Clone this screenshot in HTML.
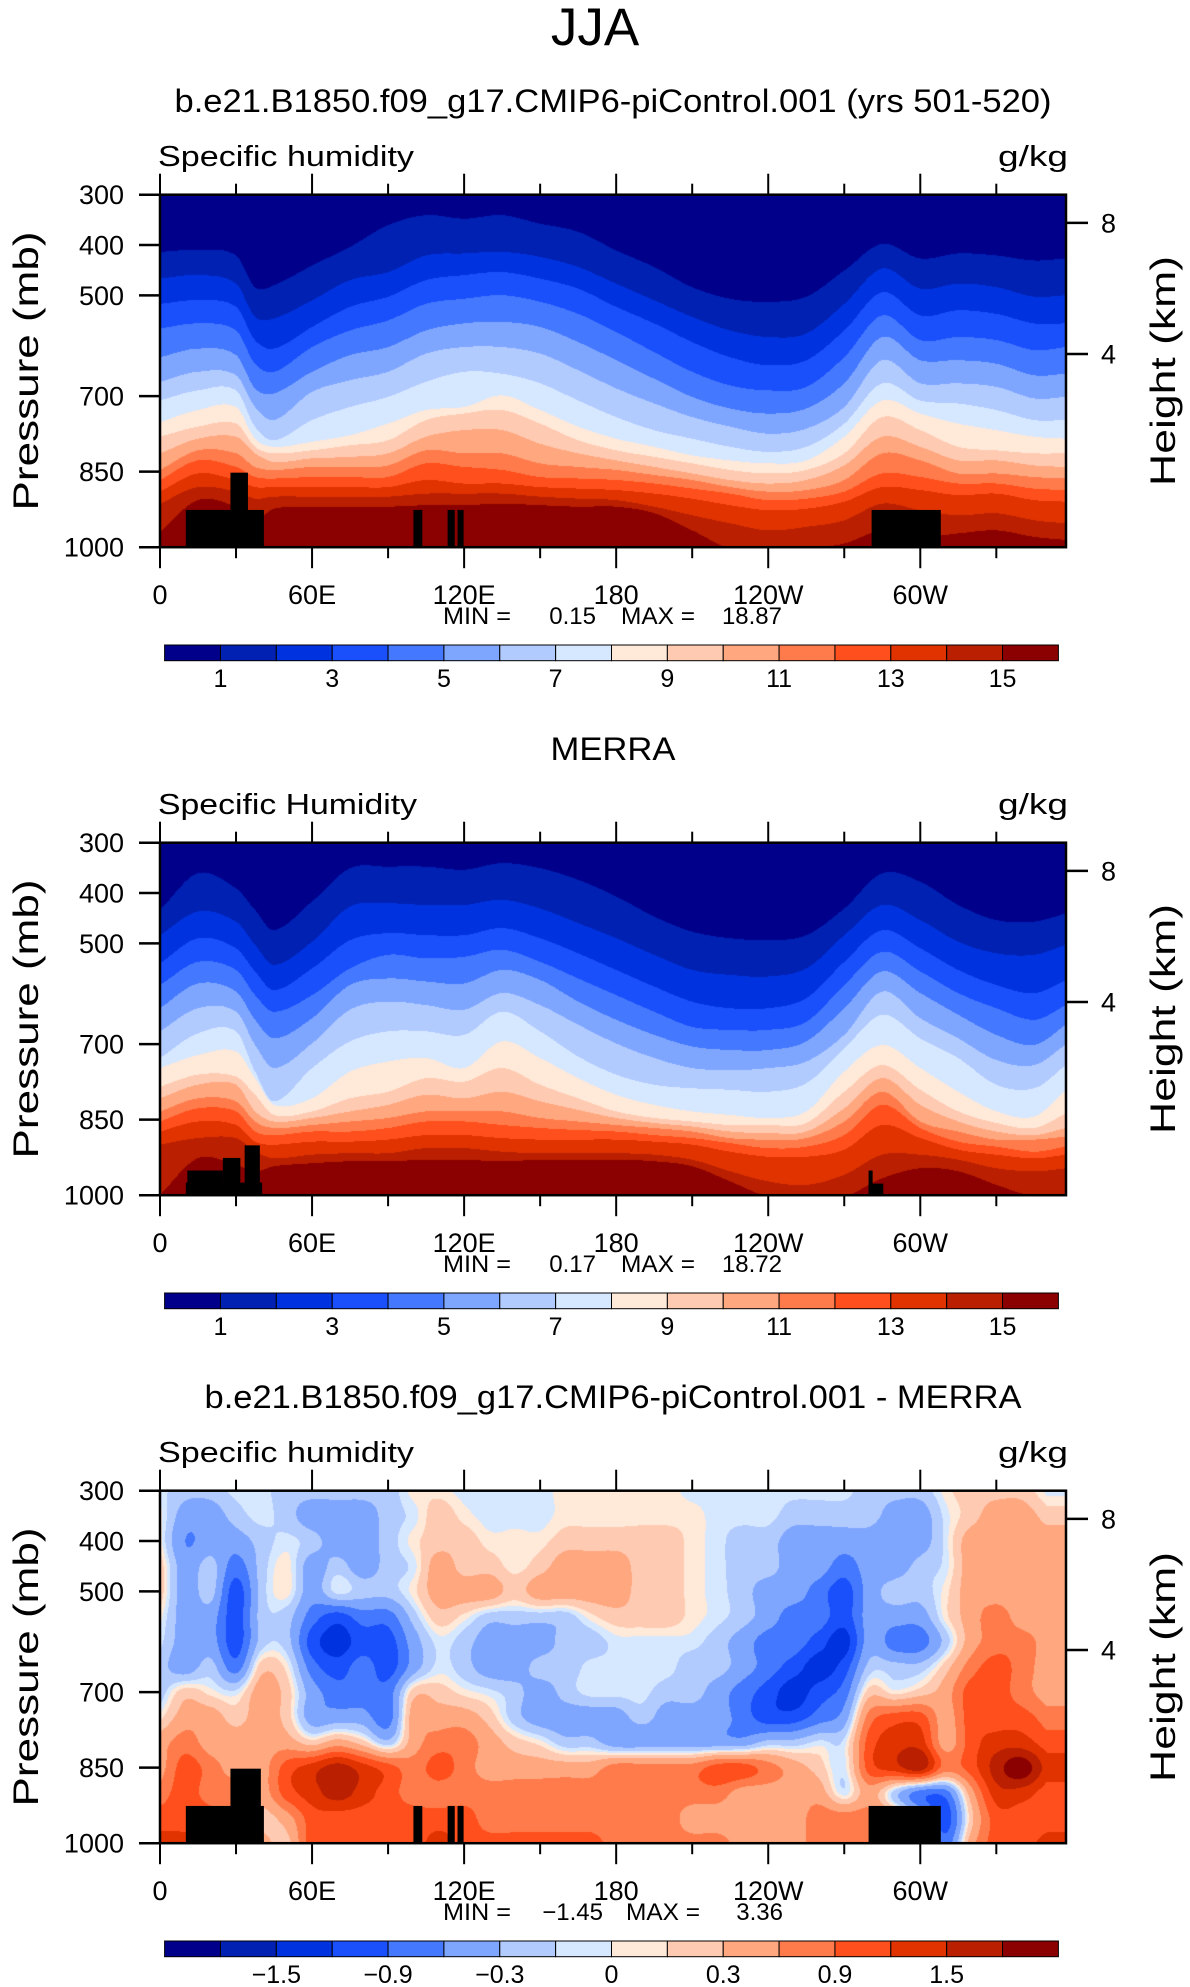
<!DOCTYPE html>
<html><head><meta charset="utf-8">
<style>
html,body{margin:0;padding:0;background:#fff;}
body{width:1190px;height:1987px;position:relative;overflow:hidden;font-family:"Liberation Sans",sans-serif;}
canvas{position:absolute;}
svg{position:absolute;left:0;top:0;}
</style></head>
<body>
<canvas id="cv0" width="906" height="353" style="left:160px;top:194.7px"></canvas>
<canvas id="cv1" width="906" height="353" style="left:160px;top:842.7px"></canvas>
<canvas id="cv2" width="906" height="353" style="left:160px;top:1490.7px"></canvas>
<svg id="chart" width="1190" height="1987">
<text x="595" y="45" text-anchor="middle" font-size="53" fill="#000" font-family="Liberation Sans, sans-serif">JJA</text>
</svg>
<script>
// ---------- data ----------
const lons=[0,15,30,37.5,45,60,75,90,105,120,135,150,165,180,195,210,225,240,255,270,285,300,315,330,345,357.5];
// model (CNTL): pressure (mb) where specific humidity reaches 1..15 g/kg
const cntl_q1=[413,409,420,483,479,440,403,360,340,347,340,357,373,410,443,483,506,512,502,450,397,426,416,420,430,426];
const cntl_q2=[466,459,476,542,545,509,469,453,420,416,413,423,443,476,509,542,569,582,575,516,446,486,476,483,502,499];
const cntl_q3=[516,509,522,588,605,562,522,502,469,459,453,466,486,522,555,592,622,638,628,569,493,539,529,536,555,555];
const cntl_q4=[565,555,569,635,651,602,569,549,516,506,499,512,536,572,612,651,678,688,681,622,539,588,582,588,608,602];
const cntl_q5=[622,605,618,684,694,651,618,602,569,555,552,562,592,628,665,701,724,734,724,674,582,628,628,635,658,655];
const cntl_q6=[671,651,658,721,747,691,668,651,615,602,602,615,648,684,714,741,760,774,764,721,628,674,674,681,704,701];
const cntl_q7=[708,688,688,760,787,747,721,701,671,651,655,674,708,741,767,784,800,810,800,754,674,708,714,727,747,747];
const cntl_q8=[751,727,721,784,800,790,777,754,727,721,698,727,760,784,800,817,827,833,827,780,708,734,754,767,780,784];
const cntl_q9=[780,760,754,800,813,807,797,787,747,734,727,754,787,807,820,833,846,853,846,813,741,767,800,807,813,813];
const cntl_q10=[813,784,780,813,830,823,820,813,780,767,767,794,813,827,840,853,866,873,866,837,780,800,827,827,837,840];
const cntl_q11=[846,807,813,840,846,840,840,837,807,813,813,833,840,846,856,866,880,889,886,866,813,827,853,853,860,863];
const cntl_q12=[866,827,840,860,863,860,860,860,833,840,846,860,863,866,873,883,893,906,903,889,853,860,873,873,883,886];
const cntl_q13=[889,853,866,880,880,880,880,880,866,873,873,880,883,886,893,903,916,926,923,909,880,886,896,893,906,909];
const cntl_q14=[913,880,889,903,899,899,899,899,893,893,893,899,903,906,919,936,952,966,959,946,913,926,936,932,946,952];
const cntl_q15=[969,906,919,946,923,919,919,919,916,916,913,916,919,919,932,966,1002,1002,1002,992,966,979,972,966,979,985];
// MERRA
const merra_q1=[433,360,390,433,473,416,350,347,347,353,340,350,373,406,446,476,489,493,483,430,360,377,423,453,456,440];
const merra_q2=[483,436,456,502,542,496,426,420,423,423,413,430,459,489,522,552,562,565,549,483,423,453,496,519,522,502];
const merra_q3=[539,489,509,555,592,549,493,479,483,483,469,489,519,552,585,615,628,628,608,536,473,509,552,582,598,572];
const merra_q4=[582,536,552,602,635,602,549,522,529,526,512,536,569,602,635,665,671,671,655,582,516,555,598,628,651,622];
const merra_q5=[628,579,595,651,688,648,582,569,575,579,552,572,615,651,681,704,711,711,694,628,555,598,641,681,701,661];
const merra_q6=[674,628,635,701,747,698,631,615,622,631,598,622,661,698,727,747,751,747,734,681,595,648,688,731,741,700];
const merra_q7=[727,678,674,754,813,747,694,674,674,681,635,674,724,760,780,787,790,794,777,708,641,688,727,780,787,741];
const merra_q8=[747,721,714,767,820,807,754,734,727,747,694,727,767,800,820,833,840,846,833,754,701,747,794,833,843,790];
const merra_q9=[784,760,764,800,840,833,807,794,767,774,747,780,807,833,846,853,860,860,856,794,741,790,833,856,866,837];
const merra_q10=[807,780,780,833,853,846,833,820,800,807,794,813,830,846,856,863,873,876,873,827,767,820,853,873,880,866];
const merra_q11=[833,807,813,853,866,860,853,846,833,833,833,846,853,860,866,873,886,889,886,853,794,853,873,889,889,883];
const merra_q12=[853,827,833,873,880,873,873,866,853,853,860,866,870,873,880,886,896,906,903,880,820,866,893,903,913,903];
const merra_q13=[873,853,860,893,899,893,893,889,880,880,886,889,889,889,893,899,913,923,923,909,860,886,909,919,926,919];
const merra_q14=[899,886,886,913,926,919,916,916,906,906,913,916,916,916,919,929,952,972,979,959,919,919,929,946,952,946];
const merra_q15=[999,926,939,952,942,936,932,932,929,929,932,929,929,929,932,942,972,1002,1002,1002,966,946,952,979,1002,1002];
// difference field (g/kg), lon 0..350 step 10, one array per pressure level
const diffLons=[0,10,20,30,40,50,60,70,80,90,100,110,120,130,140,150,160,170,180,190,200,210,220,230,240,250,260,270,280,290,300,310,320,330,340,350];
const diffPres=[300,350,400,450,500,550,600,650,700,750,800,850,900,950,1000];
const diff_p300=[-0.05,-0.2,-0.2,-0.05,-0.05,-0.2,-0.2,-0.2,-0.2,-0.2,0.05,0.05,-0.05,-0.05,-0.05,-0.05,0.05,0.05,0.05,0.05,0.05,-0.05,-0.05,-0.05,-0.05,-0.05,-0.05,-0.05,-0.2,-0.2,-0.2,0.05,0.2,0.2,0.2,-0.05];
const diff_p350=[0.05,-0.45,-0.45,-0.2,-0.05,-0.2,-0.45,-0.45,-0.45,-0.2,-0.05,0.2,0.05,-0.05,-0.05,-0.05,0.05,0.05,0.05,0.05,0.05,0.05,-0.05,-0.05,-0.05,-0.2,-0.2,-0.2,-0.2,-0.45,-0.45,-0.05,0.2,0.45,0.45,0.2];
const diff_p400=[0.05,-0.6,-0.45,-0.45,-0.2,-0.05,-0.2,-0.45,-0.45,-0.2,0.05,0.2,0.2,0.05,0.05,0.05,0.2,0.2,0.2,0.2,0.2,0.05,-0.05,-0.2,-0.2,-0.45,-0.45,-0.45,-0.45,-0.6,-0.45,-0.05,0.45,0.45,0.45,0.45];
const diff_p450=[0.2,-0.45,-0.2,-0.75,-0.2,0.05,-0.45,-0.2,-0.45,-0.2,-0.05,0.45,0.2,0.2,0.05,0.2,0.45,0.45,0.45,0.2,0.2,0.05,-0.05,-0.2,-0.2,-0.45,-0.45,-0.75,-0.45,-0.45,-0.2,-0.05,0.45,0.45,0.45,0.45];
const diff_p500=[0.2,-0.45,-0.2,-1.05,-0.2,0.05,-0.45,-0.05,-0.2,-0.2,0.05,0.45,0.45,0.45,0.2,0.45,0.45,0.45,0.45,0.2,0.2,0.05,-0.05,-0.2,-0.45,-0.45,-0.75,-1.05,-0.45,-0.2,-0.2,0.05,0.45,0.45,0.45,0.45];
const diff_p550=[0.05,-0.45,-0.45,-1.05,-0.2,-0.2,-0.75,-1.05,-0.75,-0.75,-0.2,0.2,0.05,-0.2,-0.2,-0.2,-0.2,0.05,0.2,0.2,0.2,0.05,-0.05,-0.2,-0.45,-0.75,-0.75,-1.05,-0.45,-0.45,-0.45,0.05,0.45,0.75,0.45,0.45];
const diff_p600=[-0.05,-0.45,-0.45,-1.05,-0.2,-0.2,-1.05,-1.35,-1.05,-1.05,-0.45,-0.05,-0.2,-0.45,-0.45,-0.45,-0.2,-0.2,-0.05,-0.05,-0.05,-0.05,-0.2,-0.45,-0.75,-0.75,-1.05,-1.35,-0.45,-0.75,-0.75,-0.2,0.45,0.75,0.75,0.45];
const diff_p650=[-0.2,-0.45,-0.2,-0.75,0.2,0.05,-0.75,-1.05,-0.75,-1.05,-0.45,-0.05,-0.2,-0.45,-0.45,-0.2,-0.2,-0.05,-0.05,-0.05,-0.05,-0.2,-0.2,-0.45,-0.75,-1.05,-1.35,-1.05,-0.2,-0.2,-0.2,0.2,0.75,1.05,0.75,0.45];
const diff_p700=[-0.2,0.2,0.05,-0.05,0.45,0.2,-0.45,-0.75,-0.75,-0.75,0.2,0.2,0.05,-0.05,-0.2,-0.45,-0.2,-0.05,-0.05,-0.05,-0.2,-0.2,-0.45,-0.75,-1.05,-1.35,-1.05,-0.75,0.2,0.05,0.2,0.45,1.05,1.05,0.75,0.45];
const diff_p750=[0.05,0.45,0.45,0.2,0.45,0.2,-0.45,-0.45,-0.45,-0.75,0.45,0.45,0.45,0.2,-0.2,-0.45,-0.45,-0.45,-0.45,-0.2,-0.45,-0.45,-0.45,-0.75,-1.05,-1.05,-0.75,-0.45,0.75,1.05,1.05,0.45,1.05,1.05,1.05,0.75];
const diff_p800=[0.45,0.75,0.45,0.45,0.45,0.45,0.2,0.45,0.2,-0.2,0.45,0.75,0.75,0.45,0.2,0.05,-0.2,-0.2,-0.45,-0.45,-0.45,-0.45,-0.45,-0.45,-0.2,-0.2,-0.05,-0.05,1.05,1.35,1.35,0.45,1.05,1.35,1.35,1.05];
const diff_p850=[0.45,1.05,0.75,0.45,0.45,1.05,1.35,1.65,1.35,1.05,0.75,1.05,0.75,0.45,0.45,0.45,0.45,0.45,0.75,0.75,0.75,0.75,1.05,1.05,0.75,0.45,0.2,-0.05,1.05,1.35,1.65,0.75,1.05,1.65,2.0,1.35];
const diff_p900=[0.75,1.05,0.75,0.75,0.45,1.05,1.35,1.65,1.35,1.05,0.75,0.75,0.75,0.75,0.75,0.75,0.75,0.75,0.75,0.75,0.75,0.75,0.75,0.45,0.45,0.45,0.45,-0.05,0.45,-0.2,-0.75,-0.75,0.45,1.35,1.35,1.05];
const diff_p950=[1.05,1.05,1.05,0.45,0.2,0.45,1.05,1.05,1.05,1.05,1.05,1.05,1.05,0.75,0.75,0.75,0.75,0.75,0.75,0.75,0.75,0.45,0.45,0.45,0.45,0.45,0.75,0.75,0.75,0.45,-0.2,-1.05,0.2,1.05,1.05,1.05];
const diff_p1000=[1.35,1.35,1.05,0.75,0.45,0.2,1.05,1.05,1.05,1.05,1.05,1.35,1.05,1.05,1.05,1.05,1.05,1.05,0.75,0.75,0.75,0.75,0.75,0.45,0.45,0.45,0.75,0.75,0.75,0.45,0.2,-0.75,0.45,1.05,1.05,1.35];
// topography masks: [lonStart, lonEnd, surface pressure]
const topoCntl=[[10.2,41,926],[27.8,34.7,852],[100,103.5,926],[113.5,116.3,926],[117.4,119.8,926],[280.8,308.1,926]];
const topoMerra=[[10.2,40.3,975],[10.8,24.8,951],[24.8,31.7,926],[33.4,39.4,901],[279.6,281.2,951],[279.6,285.4,977]];
const topoDiff=[[10.2,41,926],[27.8,39.8,852],[100,103.5,926],[113.5,116.3,926],[117.4,119.8,926],[279.6,308.1,926]];
// axis ticks / labels
const pTicks=[300,400,500,700,850,1000];
const lonTickVals=[0,60,120,180,240,300];
const lonTickLabels=['0','60E','120E','180','120W','60W'];
const heightTicks=[4,8];
const qLevels=[1,2,3,4,5,6,7,8,9,10,11,12,13,14,15];
const qLabels=['1','','3','','5','','7','','9','','11','','13','','15'];
const diffLevels=[-1.8,-1.5,-1.2,-0.9,-0.6,-0.3,-0.1,0,0.1,0.3,0.6,0.9,1.2,1.5,1.8];
const diffLabels=['','\u22121.5','','\u22120.9','','\u22120.3','','0','','0.3','','0.9','','1.5',''];
const colors=['#00008b','#0021b2','#0032df','#1a4ffc','#4478fe','#7fa6ff','#b2cbff','#d6e8ff','#ffe9d9','#ffcab2','#ffa77f','#ff7b4b','#ff4f1d','#e03300','#b91f00','#8b0000'];
const statsCntl=['0.15','18.87'];
const statsMerra=['0.17','18.72'];
const statsDiff=['\u22121.45','3.36'];

// ---------- geometry ----------
const NS='http://www.w3.org/2000/svg';
const svg=document.getElementById('chart');
const PL=160,PW=906,PH=352.5,LONMAX=357.5;
const TOPS=[194.7,842.7,1490.7];
function xOf(lon){return PL+lon/LONMAX*PW;}
function yOf(p,top){return top+(p-300)/700*PH;}
function pOfH(hkm){return 1013.25*Math.pow(1-2.25577e-5*hkm*1000,5.25588);}
function mk(tag,attrs,parent){const e=document.createElementNS(NS,tag);for(const k in attrs)e.setAttribute(k,attrs[k]);(parent||svg).appendChild(e);if(attrs.text!==undefined){e.textContent=attrs.text;e.removeAttribute('text');}return e;}
const rgb=colors.map(h=>[parseInt(h.substr(1,2),16),parseInt(h.substr(3,2),16),parseInt(h.substr(5,2),16)]);

// cubic Hermite interpolation (smooth)
function interpLon(arr,xs,lon){
  const n=xs.length;
  if(lon<=xs[0])return arr[0];
  if(lon>=xs[n-1])return arr[n-1];
  let i=0;while(i<n-2&&lon>xs[i+1])i++;
  const x0=xs[i],x1=xs[i+1],h=x1-x0,t=(lon-x0)/h;
  const y0=arr[i],y1=arr[i+1];
  const m0=i>0?(arr[i+1]-arr[i-1])/(xs[i+1]-xs[i-1]):(y1-y0)/h;
  const m1=i<n-2?(arr[i+2]-arr[i])/(xs[i+2]-xs[i]):(y1-y0)/h;
  const t2=t*t,t3=t2*t;
  return (2*t3-3*t2+1)*y0+(t3-2*t2+t)*h*m0+(-2*t3+3*t2)*y1+(t3-t2)*h*m1;
}
function fillContours(cvId,levelArrays){
  const cv=document.getElementById(cvId),ctx=cv.getContext('2d');
  const W=cv.width,H=cv.height,img=ctx.createImageData(W,H),d=img.data;
  for(let x=0;x<W;x++){
    const lon=(x+0.5)/PW*LONMAX;
    const ps=levelArrays.map(a=>interpLon(a,lons,lon));
    for(let y=0;y<H;y++){
      const p=300+(y+0.5)/PH*700;
      let k=0;for(let j=0;j<ps.length;j++){if(p>=ps[j])k++;}
      const c=rgb[k],o=(y*W+x)*4;d[o]=c[0];d[o+1]=c[1];d[o+2]=c[2];d[o+3]=255;
    }
  }
  ctx.putImageData(img,0,0);
}
function fillGrid(cvId,rows,levels){
  const cv=document.getElementById(cvId),ctx=cv.getContext('2d');
  const W=cv.width,H=cv.height,img=ctx.createImageData(W,H),d=img.data;
  for(let x=0;x<W;x++){
    const lon=(x+0.5)/PW*LONMAX;
    const col=rows.map(r=>interpLon(r,diffLons,lon));
    for(let y=0;y<H;y++){
      const p=300+(y+0.5)/PH*700;
      const v=interpLon(col,diffPres,p);
      let k=0;for(let j=0;j<levels.length;j++){if(v>=levels[j])k++;}
      const c=rgb[k],o=(y*W+x)*4;d[o]=c[0];d[o+1]=c[1];d[o+2]=c[2];d[o+3]=255;
    }
  }
  ctx.putImageData(img,0,0);
}

fillContours('cv0',[cntl_q1,cntl_q2,cntl_q3,cntl_q4,cntl_q5,cntl_q6,cntl_q7,cntl_q8,cntl_q9,cntl_q10,cntl_q11,cntl_q12,cntl_q13,cntl_q14,cntl_q15]);
fillContours('cv1',[merra_q1,merra_q2,merra_q3,merra_q4,merra_q5,merra_q6,merra_q7,merra_q8,merra_q9,merra_q10,merra_q11,merra_q12,merra_q13,merra_q14,merra_q15]);
fillGrid('cv2',[diff_p300,diff_p350,diff_p400,diff_p450,diff_p500,diff_p550,diff_p600,diff_p650,diff_p700,diff_p750,diff_p800,diff_p850,diff_p900,diff_p950,diff_p1000],diffLevels);

const panels=[
 {title:'b.e21.B1850.f09_g17.CMIP6-piControl.001 (yrs 501-520)',tlen:877,left:'Specific humidity',topo:topoCntl,labels:qLabels,stats:statsCntl,name:'model'},
 {title:'MERRA',tlen:125,left:'Specific Humidity',topo:topoMerra,labels:qLabels,stats:statsMerra,name:'merra'},
 {title:'b.e21.B1850.f09_g17.CMIP6-piControl.001 - MERRA',tlen:817,left:'Specific humidity',topo:topoDiff,labels:diffLabels,stats:statsDiff,name:'difference'}
];

panels.forEach((pn,i)=>{
  const T=TOPS[i],off=648*i;
  const g=mk('g',{});
  
  
  const t=mk('text',{x:613,y:112+off,'text-anchor':'middle','font-size':32,textLength:pn.tlen,lengthAdjust:'spacingAndGlyphs',text:pn.title},g);
  
  
  const lt=mk('text',{x:158,y:166+off,'font-size':29,textLength:pn.left==='Specific humidity'?256:259,lengthAdjust:'spacingAndGlyphs',text:pn.left},g);
  
  
  const ut=mk('text',{x:1068,y:166+off,'font-size':29,'text-anchor':'end',textLength:70,lengthAdjust:'spacingAndGlyphs',text:'g/kg'},g);
  
  
  pn.topo.forEach(b=>{
    const r=mk('rect',{x:xOf(b[0]),y:yOf(b[2],T),width:xOf(b[1])-xOf(b[0]),height:yOf(1000,T)-yOf(b[2],T),fill:'#000'},g);
    
    
  });
  const fr=mk('rect',{x:PL,y:T,width:PW,height:PH,fill:'none',stroke:'#000','stroke-width':2.5},g);
  
  
  for(let lon=0;lon<=330;lon+=30){
    const major=lon%60===0, len=major?21:11, x=xOf(lon);
    const tb=mk('line',{x1:x,x2:x,y1:T+PH,y2:T+PH+len,stroke:'#000','stroke-width':2},g);
    
    
    const tt=mk('line',{x1:x,x2:x,y1:T,y2:T-len,stroke:'#000','stroke-width':2},g);
    
    
  }
  lonTickVals.forEach((lon,j)=>{
    const lb=mk('text',{x:xOf(lon),y:T+PH+57,'text-anchor':'middle','font-size':27,text:lonTickLabels[j]},g);
    
    
  });
  pTicks.forEach(p=>{
    const y=yOf(p,T);
    const tk=mk('line',{x1:PL-21,x2:PL,y1:y,y2:y,stroke:'#000','stroke-width':2.5},g);
    
    
    const lb=mk('text',{x:124,y:y+9.5,'text-anchor':'end','font-size':27,text:String(p)},g);
    
    
  });
  heightTicks.forEach(h=>{
    const y=yOf(pOfH(h),T);
    const tk=mk('line',{x1:PL+PW,x2:PL+PW+22,y1:y,y2:y,stroke:'#000','stroke-width':2.5},g);
    
    
    const lb=mk('text',{x:1101,y:y+9.5,'font-size':27,text:String(h)},g);
    
    
  });
  const yt=mk('text',{x:0,y:0,'font-size':35,'text-anchor':'middle',textLength:279,lengthAdjust:'spacingAndGlyphs',transform:`translate(38,${T+PH/2}) rotate(-90)`,text:'Pressure (mb)'},g);
  
  
  const ht=mk('text',{x:0,y:0,'font-size':35,'text-anchor':'middle',textLength:230,lengthAdjust:'spacingAndGlyphs',transform:`translate(1175,${T+PH/2}) rotate(-90)`,text:'Height (km)'},g);
  
  
  const sy=624+off;
  const s1=mk('text',{x:443,y:sy,'font-size':24,textLength:68,lengthAdjust:'spacingAndGlyphs',text:'MIN ='},g);
  
  
  const s2=mk('text',{x:i===2?603:596,y:sy,'font-size':24,'text-anchor':'end',text:pn.stats[0]},g);
  
  
  const s3=mk('text',{x:i===2?626:621,y:sy,'font-size':24,textLength:74,lengthAdjust:'spacingAndGlyphs',text:'MAX ='},g);
  
  
  const s4=mk('text',{x:i===2?783:782,y:sy,'font-size':24,'text-anchor':'end',text:pn.stats[1]},g);
  
  
  const cbx=164.6,cbw=893.8,cby=645+off,cbh=15.7,bw=cbw/16;
  colors.forEach((c,k)=>{
    const r=mk('rect',{x:cbx+k*bw,y:cby,width:bw,height:cbh,fill:c,stroke:'#000','stroke-width':1},g);
    
    
  });
  pn.labels.forEach((lab,k)=>{
    if(!lab)return;
    const lb=mk('text',{x:cbx+(k+1)*bw,y:687+off,'text-anchor':'middle','font-size':25,text:lab},g);
    
    
  });
});
</script>
</body></html>
